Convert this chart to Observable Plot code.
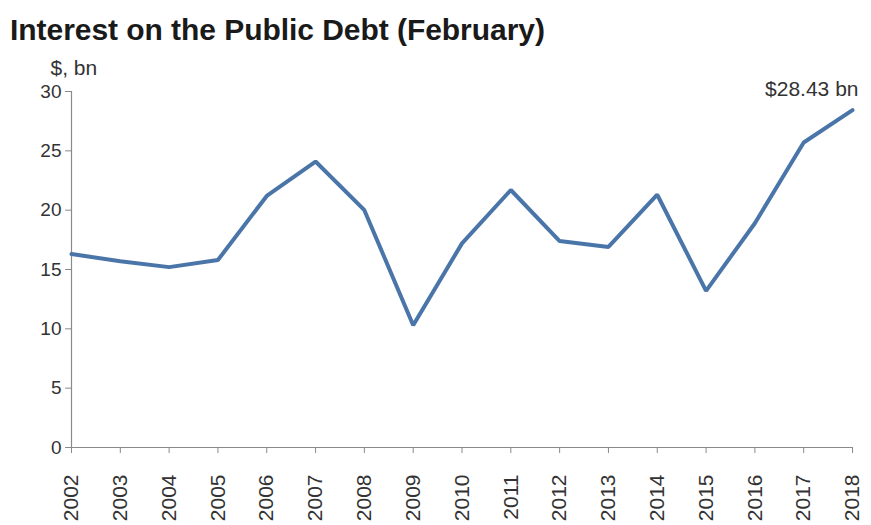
<!DOCTYPE html>
<html>
<head>
<meta charset="utf-8">
<script src="https://cdn.jsdelivr.net/npm/d3@7"></script>
<script src="https://cdn.jsdelivr.net/npm/@observablehq/plot@0.6"></script>
<style>
  html, body { margin: 0; padding: 0; background: #fff; }
  #wrap { width: 871px; height: 525px; overflow: hidden; background: #fff; }
  #title {
    height: 50px; box-sizing: border-box; padding: 13px 0 0 10px;
    font: bold 30px "Liberation Sans", Arial, sans-serif; letter-spacing: -0.05px;
    line-height: 1.15; color: #1a1a1a; white-space: nowrap;
  }
</style>
</head>
<body>
<div id="wrap">
  <div id="title">Interest on the Public Debt (February)</div>
  <div id="chart"></div>
</div>
<script>
const years = [2002, 2003, 2004, 2005, 2006, 2007, 2008, 2009, 2010, 2011, 2012, 2013, 2014, 2015, 2016, 2017, 2018];
const interest = [16.3, 15.7, 15.2, 15.8, 21.2, 24.1, 20.0, 10.3, 17.2, 21.7, 17.4, 16.9, 21.3, 13.2, 18.9, 25.7, 28.43];
const yTicks = [0, 5, 10, 15, 20, 25, 30];
const unitLabel = ["$, bn"];
const lastLabel = ["$28.43 bn"];

const data = years.map((y, i) => ({year: y, value: interest[i]}));
const last = data[data.length - 1];

const chart = Plot.plot({
  width: 871,
  height: 475,
  marginLeft: 71,
  marginRight: 19,
  marginTop: 41,
  marginBottom: 78,
  style: {fontFamily: "'Liberation Sans', Arial, sans-serif", background: "#fff", color: "#333"},
  x: {domain: [2002, 2018], type: "linear"},
  y: {domain: [0, 30]},
  marks: [
    Plot.ruleX([2002], {stroke: "#8a8a8a", strokeWidth: 1.2}),
    Plot.ruleY([0], {stroke: "#8a8a8a", strokeWidth: 1.2}),
    Plot.axisY({ticks: yTicks, tickSize: 6, tickPadding: 4, fontSize: 19, label: null, stroke: "#8a8a8a", fill: "#333", tickFormat: d => String(d)}),
    Plot.axisX({ticks: years, tickSize: 6, tickPadding: 21, tickRotate: -90, fontSize: 21, label: null, stroke: "#8a8a8a", fill: "#333", tickFormat: d => String(d)}),
    Plot.lineY(data, {x: "year", y: "value", stroke: "#4a75a8", strokeWidth: 4, strokeLinejoin: "miter"}),
    Plot.text(unitLabel, {frameAnchor: "top-left", text: d => d, dx: -21, dy: -31, textAnchor: "start", fontSize: 21, fill: "#333"}),
    Plot.text([last], {x: "year", y: "value", text: () => lastLabel[0], dx: 6, dy: -21, textAnchor: "end", fontSize: 21, fill: "#333"})
  ]
});
document.getElementById("chart").appendChild(chart);
</script>
</body>
</html>
